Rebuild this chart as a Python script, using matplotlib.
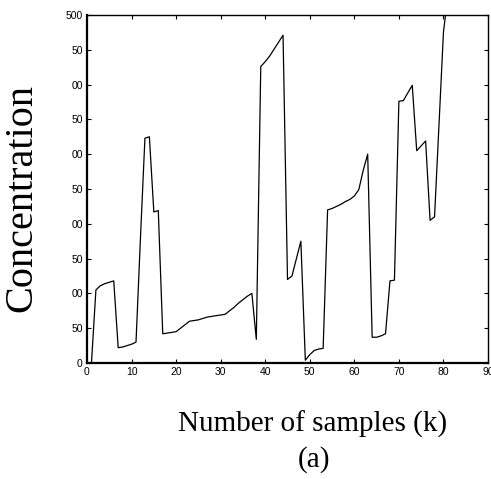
import matplotlib
matplotlib.use("Agg")
import matplotlib.pyplot as plt
import numpy as np

# Data
samples = np.arange(1, 82)
concentration = [0, 105, 111, 114, 116, 118, 22, 23, 25, 27,
                 30, 180, 323, 325, 217, 219, 42, 43, 44, 45,
                 50, 55, 60, 61, 62, 64, 66, 67, 68, 69,
                 70, 75, 80, 86, 91, 96, 100, 34, 426, 433,
                 441, 451, 461, 471, 120, 125, 150, 175, 4, 12,
                 18, 20, 21, 220, 222, 225, 228, 232, 235, 240,
                 249, 277, 300, 37, 37, 39, 42, 118, 119, 376,
                 377, 388, 399, 305, 312, 319, 205, 210, 342, 475,
                 530]
x_ticks = [0, 10, 20, 30, 40, 50, 60, 70, 80, 90]
y_ticks = [0, 50, 100, 150, 200, 250, 300, 350, 400, 450, 500]
# tick labels are cut off in the original figure
y_tick_labels = ["0", "50", "00", "50", "00", "50", "00", "50", "00", "50", "500"]

fig = plt.figure(figsize=(4.91, 4.79), dpi=100)
ax = fig.add_axes([87 / 491, 116 / 479, 401 / 491, 348 / 479])

ax.plot(samples, concentration, color="black", linewidth=0.9)

ax.set_xlim(0, 90)
ax.set_ylim(0, 500)
ax.set_xticks(x_ticks)
ax.set_yticks(y_ticks)
ax.set_yticklabels(y_tick_labels)

ax.tick_params(direction="in", top=True, right=True, length=3, width=0.8,
               labelsize=7.5, pad=3)
for lab in ax.get_xticklabels() + ax.get_yticklabels():
    lab.set_family("Liberation Sans")
for side in ax.spines.values():
    side.set_linewidth(1.0)
ax.spines["bottom"].set_linewidth(1.6)
ax.spines["left"].set_linewidth(1.6)

# Labels
fig.text(22 / 491, 1 - 198 / 479, "Concentration", rotation=90,
         ha="center", va="center", fontsize=29, family="Liberation Serif")
fig.text(313 / 491, 1 - 424 / 479, "Number of samples (k)",
         ha="center", va="center", fontsize=21, family="Liberation Serif")
fig.text(314 / 491, 1 - 460 / 479, "(a)",
         ha="center", va="center", fontsize=21, family="Liberation Serif")

fig.savefig("out.png", dpi=100)
